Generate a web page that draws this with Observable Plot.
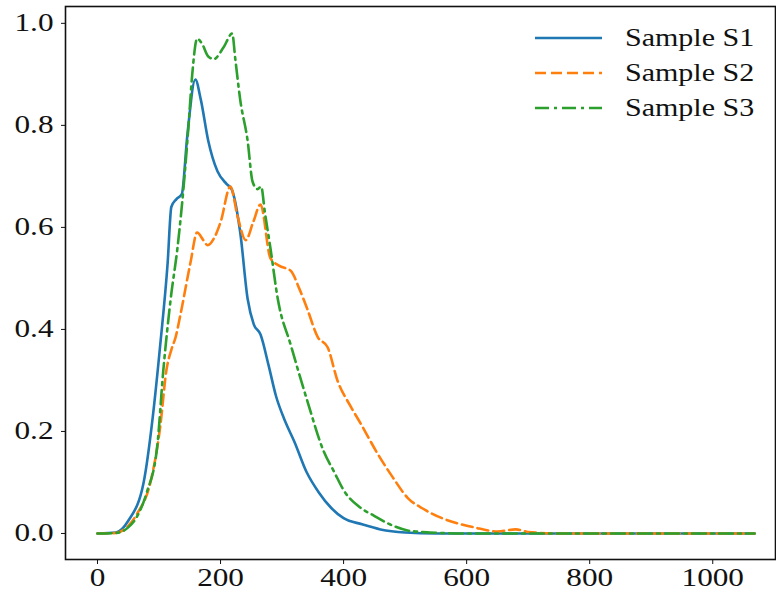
<!DOCTYPE html>
<html>
<head>
<meta charset="utf-8">
<script src="https://cdn.jsdelivr.net/npm/d3@7"></script>
<script src="https://cdn.jsdelivr.net/npm/@observablehq/plot@0.6"></script>
<style>
  html, body { margin: 0; padding: 0; background: #fff; }
  #wrap { position: relative; width: 776px; height: 592px; }
  #wrap svg, #wrap svg text { font-family: "Liberation Serif", "Times New Roman", serif !important; }
  #legend { position: absolute; left: 535px; top: 20px; font-family: "Liberation Serif", "Times New Roman", serif; font-size: 25px; color: #111; }
  .row { display: flex; align-items: center; height: 35px; }
  .row svg { width: 67px; height: 10px; margin-right: 23px; }
  .row span { display: inline-block; transform: scaleX(1.2); transform-origin: left center; }
</style>
</head>
<body>
<div id="wrap"><div id="legend"></div></div>
<script>
const seriesNames = ["Sample S1", "Sample S2", "Sample S3"];
const seriesColors = ["#1f77b4", "#ff7f0e", "#2ca02c"];
const seriesDash = [null, "11,5", "14,5,3,5"];
const xTicks = [0, 200, 400, 600, 800, 1000];
const yTicks = [0, 0.2, 0.4, 0.6, 0.8, 1.0];

const sampleS1 = [[0,0],[30,0.002],[50,0.025],[75,0.10],[90,0.23],[102,0.37],[114,0.53],[120,0.64],[128,0.655],[137,0.665],[146,0.78],[159,0.89],[168,0.85],[180,0.77],[195,0.71],[210,0.685],[218,0.675],[232,0.59],[244,0.46],[254,0.41],[265,0.39],[278,0.33],[290,0.27],[305,0.22],[320,0.18],[340,0.12],[360,0.08],[380,0.05],[400,0.03],[430,0.018],[460,0.008],[500,0.002],[550,0],[700,0],[900,0],[1068,0]];
const sampleS2 = [[0,0],[30,0.001],[50,0.015],[65,0.04],[86,0.10],[102,0.21],[112,0.32],[120,0.36],[127,0.385],[135,0.43],[151,0.53],[162,0.59],[172,0.575],[179,0.565],[190,0.58],[200,0.61],[216,0.68],[228,0.62],[241,0.575],[253,0.61],[265,0.645],[281,0.54],[295,0.525],[314,0.515],[328,0.48],[341,0.44],[358,0.385],[374,0.365],[390,0.30],[411,0.25],[428,0.215],[455,0.157],[480,0.11],[504,0.07],[530,0.048],[558,0.031],[585,0.02],[612,0.012],[650,0.004],[680,0.008],[700,0.003],[750,0],[900,0],[1068,0]];
const sampleS3 = [[0,0],[30,0.001],[50,0.012],[65,0.035],[80,0.08],[97,0.17],[107,0.32],[119,0.46],[130,0.56],[140,0.68],[148,0.80],[154,0.90],[162,0.97],[170,0.96],[180,0.935],[189,0.93],[205,0.953],[219,0.98],[224,0.93],[232,0.85],[244,0.77],[252,0.69],[260,0.675],[266,0.68],[272,0.63],[281,0.56],[293,0.46],[314,0.37],[341,0.26],[368,0.16],[385,0.12],[400,0.085],[428,0.05],[449,0.035],[475,0.018],[504,0.006],[540,0.002],[600,0],[800,0],[1068,0]];

const allSeries = [sampleS1, sampleS2, sampleS3];
const font = '"Liberation Serif", "Times New Roman", serif';

const plot = Plot.plot({
  width: 776,
  height: 592,
  marginLeft: 65,
  marginRight: 1,
  marginTop: 6,
  marginBottom: 33,
  style: { fontFamily: font, fontSize: "25px", color: "#111", background: "#fff" },
  x: { domain: [-52, 1102] },
  y: { domain: [-0.051, 1.033] },
  marks: [
    ...allSeries.map((s, i) => Plot.line(s, {
      x: d => d[0], y: d => d[1],
      stroke: seriesColors[i], strokeWidth: 2.6,
      strokeDasharray: seriesDash[i] || undefined,
      curve: "monotone-x"
    })),
    Plot.axisX({ ticks: xTicks, tickSize: 5, tickPadding: 4, tickFormat: d => String(d), fontSize: 25, fontFamily: font, stroke: "#111", fill: "#111" }),
    Plot.axisY({ ticks: yTicks, tickSize: 4, tickPadding: 8, tickFormat: d3.format(".1f"), fontSize: 25, fontFamily: font, stroke: "#111", fill: "#111" }),
    Plot.frame({ stroke: "#111", strokeWidth: 1.6 })
  ]
});
document.getElementById("wrap").prepend(plot);

// widen the tick labels horizontally, as in the reference
plot.querySelectorAll('g[aria-label$="tick label"] text').forEach(t => {
  const tr = t.getAttribute("transform");
  if (tr) t.setAttribute("transform", tr + " scale(1.25,1)");
});

const legend = document.getElementById("legend");
seriesNames.forEach((name, i) => {
  const row = document.createElement("div");
  row.className = "row";
  const dash = seriesDash[i] ? ` stroke-dasharray="${seriesDash[i]}"` : "";
  row.innerHTML = `<svg viewBox="0 0 67 10"><line x1="0" y1="5" x2="67" y2="5" stroke="${seriesColors[i]}" stroke-width="2.6"${dash}/></svg><span>${name}</span>`;
  legend.appendChild(row);
});
</script>
</body>
</html>
